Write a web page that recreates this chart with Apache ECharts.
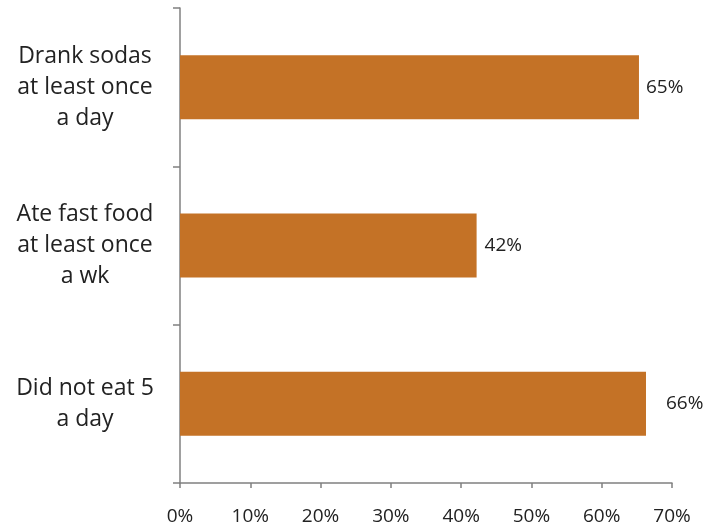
<!DOCTYPE html>
<html>
<head>
<meta charset="utf-8">
<script src="https://cdn.jsdelivr.net/npm/echarts@6/dist/echarts.min.js"></script>
<style>
  html, body { margin: 0; padding: 0; background: #fff; }
  #chart { width: 706px; height: 527px; }
</style>
</head>
<body>
<div id="chart"></div>
<script>
const categories = ["Drank sodas\nat least once\na day", "Ate fast food\nat least once\na wk", "Did not eat 5\na day"];
const values = [65.3, 42.2, 66.3];
const labelGaps = [7, 8, 20];
const xTicks = [0, 10, 20, 30, 40, 50, 60, 70];

(function () {
    let chart = echarts.init(document.querySelector("#chart"));
    const font = "'Open Sans', sans-serif";

    let option = {
        animation: false,
        grid: { left: 180, right: 34, top: 8, bottom: 44, containLabel: false },
        xAxis: {
            type: "value",
            min: xTicks[0],
            max: xTicks[xTicks.length - 1],
            interval: 10,
            splitLine: { show: false },
            axisLine: { show: true, lineStyle: { color: "#808080", width: 1.5 } },
            axisTick: { show: true, length: 5, lineStyle: { color: "#808080", width: 1.5 } },
            axisLabel: {
                formatter: "{value}%",
                color: "#222",
                fontFamily: font,
                fontSize: 19,
                margin: 24
            }
        },
        yAxis: {
            type: "category",
            data: categories,
            inverse: true,
            axisLine: { show: true, lineStyle: { color: "#808080", width: 1.5 } },
            axisTick: { show: true, length: 7, lineStyle: { color: "#808080", width: 1.5 } },
            axisLabel: {
                color: "#222",
                fontFamily: font,
                fontSize: 23,
                lineHeight: 31,
                align: "center",
                margin: 95
            }
        },
        series: [{
            type: "bar",
            barWidth: 64,
            data: values.map((v, i) => ({
                value: v,
                label: { distance: labelGaps[i] }
            })),
            itemStyle: { color: "#C47226" },
            label: {
                show: true,
                position: "right",
                color: "#222",
                fontFamily: font,
                fontSize: 19,
                formatter: p => Math.round(p.value) + "%"
            }
        }]
    };

    chart.setOption(option);
})();
</script>
</body>
</html>
